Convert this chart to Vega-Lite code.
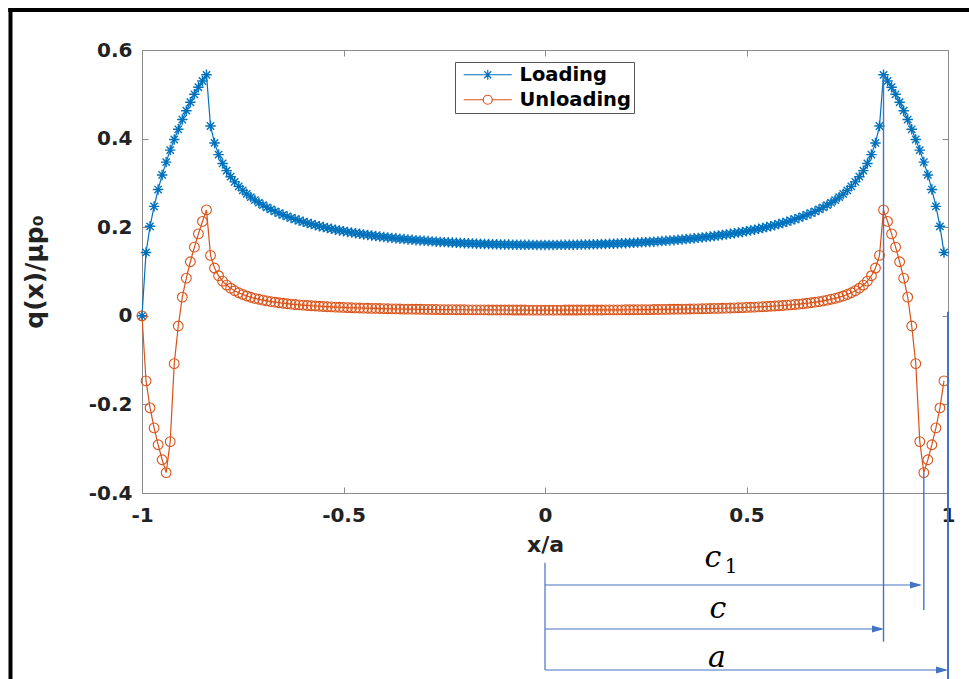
{
"$schema": "https://vega.github.io/schema/vega-lite/v6.json",
"width": 806, "height": 443,
"autosize": {"type": "none"},
"padding": {"left": 142, "top": 50, "right": 21, "bottom": 186},
"background": "white",
"config": {
 "view": {"stroke": null},
 "axis": {"grid": false, "domainColor": "#8c8c8c", "domainWidth": 1, "tickColor": "#8c8c8c", "tickSize": -6, "labelFont": "DejaVu Sans", "labelFontSize": 20, "labelFontWeight": "bold", "labelColor": "#222222", "titleFont": "DejaVu Sans", "titleFontSize": 22, "titleFontWeight": "bold", "titleColor": "#222222"}
},
"datasets": {"curve": [
{"x":-1,"Loading":0,"Unloading":0},
{"x":-0.99,"Loading":0.143,"Unloading":-0.147},
{"x":-0.98,"Loading":0.202,"Unloading":-0.208},
{"x":-0.97,"Loading":0.247,"Unloading":-0.253},
{"x":-0.96,"Loading":0.285,"Unloading":-0.291},
{"x":-0.95,"Loading":0.318,"Unloading":-0.325},
{"x":-0.94,"Loading":0.347,"Unloading":-0.354},
{"x":-0.93,"Loading":0.374,"Unloading":-0.284},
{"x":-0.92,"Loading":0.398,"Unloading":-0.108},
{"x":-0.91,"Loading":0.421,"Unloading":-0.023},
{"x":-0.9,"Loading":0.443,"Unloading":0.042},
{"x":-0.89,"Loading":0.463,"Unloading":0.085},
{"x":-0.88,"Loading":0.482,"Unloading":0.122},
{"x":-0.87,"Loading":0.5,"Unloading":0.155},
{"x":-0.86,"Loading":0.516,"Unloading":0.185},
{"x":-0.85,"Loading":0.53,"Unloading":0.213},
{"x":-0.84,"Loading":0.544,"Unloading":0.239},
{"x":-0.83,"Loading":0.4285,"Unloading":0.1363},
{"x":-0.82,"Loading":0.3902,"Unloading":0.1078},
{"x":-0.81,"Loading":0.3639,"Unloading":0.0905},
{"x":-0.8,"Loading":0.3439,"Unloading":0.0784},
{"x":-0.79,"Loading":0.3276,"Unloading":0.0694},
{"x":-0.78,"Loading":0.314,"Unloading":0.0623},
{"x":-0.77,"Loading":0.3023,"Unloading":0.0566},
{"x":-0.76,"Loading":0.2922,"Unloading":0.052},
{"x":-0.75,"Loading":0.2832,"Unloading":0.0481},
{"x":-0.74,"Loading":0.2751,"Unloading":0.0448},
{"x":-0.73,"Loading":0.2679,"Unloading":0.0419},
{"x":-0.72,"Loading":0.2613,"Unloading":0.0394},
{"x":-0.71,"Loading":0.2553,"Unloading":0.0373},
{"x":-0.7,"Loading":0.2498,"Unloading":0.0353},
{"x":-0.69,"Loading":0.2447,"Unloading":0.0336},
{"x":-0.68,"Loading":0.2401,"Unloading":0.0321},
{"x":-0.67,"Loading":0.2357,"Unloading":0.0307},
{"x":-0.66,"Loading":0.2317,"Unloading":0.0295},
{"x":-0.65,"Loading":0.2279,"Unloading":0.0283},
{"x":-0.64,"Loading":0.2243,"Unloading":0.0273},
{"x":-0.63,"Loading":0.221,"Unloading":0.0264},
{"x":-0.62,"Loading":0.2179,"Unloading":0.0255},
{"x":-0.61,"Loading":0.2149,"Unloading":0.0247},
{"x":-0.6,"Loading":0.2121,"Unloading":0.024},
{"x":-0.59,"Loading":0.2095,"Unloading":0.0233},
{"x":-0.58,"Loading":0.207,"Unloading":0.0227},
{"x":-0.57,"Loading":0.2046,"Unloading":0.0221},
{"x":-0.56,"Loading":0.2024,"Unloading":0.0215},
{"x":-0.55,"Loading":0.2003,"Unloading":0.021},
{"x":-0.54,"Loading":0.1982,"Unloading":0.0205},
{"x":-0.53,"Loading":0.1963,"Unloading":0.0201},
{"x":-0.52,"Loading":0.1945,"Unloading":0.0197},
{"x":-0.51,"Loading":0.1927,"Unloading":0.0193},
{"x":-0.5,"Loading":0.191,"Unloading":0.0189},
{"x":-0.49,"Loading":0.1894,"Unloading":0.0186},
{"x":-0.48,"Loading":0.1879,"Unloading":0.0182},
{"x":-0.47,"Loading":0.1865,"Unloading":0.0179},
{"x":-0.46,"Loading":0.1851,"Unloading":0.0176},
{"x":-0.45,"Loading":0.1837,"Unloading":0.0173},
{"x":-0.44,"Loading":0.1825,"Unloading":0.0171},
{"x":-0.43,"Loading":0.1812,"Unloading":0.0168},
{"x":-0.42,"Loading":0.1801,"Unloading":0.0166},
{"x":-0.41,"Loading":0.1789,"Unloading":0.0164},
{"x":-0.4,"Loading":0.1779,"Unloading":0.0162},
{"x":-0.39,"Loading":0.1769,"Unloading":0.0159},
{"x":-0.38,"Loading":0.1759,"Unloading":0.0157},
{"x":-0.37,"Loading":0.1749,"Unloading":0.0156},
{"x":-0.36,"Loading":0.174,"Unloading":0.0154},
{"x":-0.35,"Loading":0.1732,"Unloading":0.0152},
{"x":-0.34,"Loading":0.1723,"Unloading":0.0151},
{"x":-0.33,"Loading":0.1715,"Unloading":0.0149},
{"x":-0.32,"Loading":0.1708,"Unloading":0.0148},
{"x":-0.31,"Loading":0.1701,"Unloading":0.0147},
{"x":-0.3,"Loading":0.1693,"Unloading":0.0145},
{"x":-0.29,"Loading":0.1686,"Unloading":0.0144},
{"x":-0.28,"Loading":0.168,"Unloading":0.0143},
{"x":-0.27,"Loading":0.1674,"Unloading":0.0142},
{"x":-0.26,"Loading":0.1668,"Unloading":0.0141},
{"x":-0.25,"Loading":0.1663,"Unloading":0.014},
{"x":-0.24,"Loading":0.1658,"Unloading":0.0139},
{"x":-0.23,"Loading":0.1653,"Unloading":0.0138},
{"x":-0.22,"Loading":0.1648,"Unloading":0.0137},
{"x":-0.21,"Loading":0.1644,"Unloading":0.0137},
{"x":-0.2,"Loading":0.164,"Unloading":0.0136},
{"x":-0.19,"Loading":0.1636,"Unloading":0.0135},
{"x":-0.18,"Loading":0.1632,"Unloading":0.0135},
{"x":-0.17,"Loading":0.1628,"Unloading":0.0134},
{"x":-0.16,"Loading":0.1625,"Unloading":0.0133},
{"x":-0.15,"Loading":0.1622,"Unloading":0.0133},
{"x":-0.14,"Loading":0.1619,"Unloading":0.0132},
{"x":-0.13,"Loading":0.1616,"Unloading":0.0132},
{"x":-0.12,"Loading":0.1614,"Unloading":0.0132},
{"x":-0.11,"Loading":0.1612,"Unloading":0.0131},
{"x":-0.1,"Loading":0.161,"Unloading":0.0131},
{"x":-0.09,"Loading":0.1608,"Unloading":0.0131},
{"x":-0.08,"Loading":0.1606,"Unloading":0.013},
{"x":-0.07,"Loading":0.1605,"Unloading":0.013},
{"x":-0.06,"Loading":0.1603,"Unloading":0.013},
{"x":-0.05,"Loading":0.1602,"Unloading":0.013},
{"x":-0.04,"Loading":0.1602,"Unloading":0.0129},
{"x":-0.03,"Loading":0.1601,"Unloading":0.0129},
{"x":-0.02,"Loading":0.16,"Unloading":0.0129},
{"x":-0.01,"Loading":0.16,"Unloading":0.0129},
{"x":0,"Loading":0.16,"Unloading":0.0129},
{"x":0.01,"Loading":0.16,"Unloading":0.0129},
{"x":0.02,"Loading":0.16,"Unloading":0.0129},
{"x":0.03,"Loading":0.1601,"Unloading":0.0129},
{"x":0.04,"Loading":0.1602,"Unloading":0.0129},
{"x":0.05,"Loading":0.1602,"Unloading":0.013},
{"x":0.06,"Loading":0.1603,"Unloading":0.013},
{"x":0.07,"Loading":0.1605,"Unloading":0.013},
{"x":0.08,"Loading":0.1606,"Unloading":0.013},
{"x":0.09,"Loading":0.1608,"Unloading":0.0131},
{"x":0.1,"Loading":0.161,"Unloading":0.0131},
{"x":0.11,"Loading":0.1612,"Unloading":0.0131},
{"x":0.12,"Loading":0.1614,"Unloading":0.0132},
{"x":0.13,"Loading":0.1616,"Unloading":0.0132},
{"x":0.14,"Loading":0.1619,"Unloading":0.0132},
{"x":0.15,"Loading":0.1622,"Unloading":0.0133},
{"x":0.16,"Loading":0.1625,"Unloading":0.0133},
{"x":0.17,"Loading":0.1628,"Unloading":0.0134},
{"x":0.18,"Loading":0.1632,"Unloading":0.0135},
{"x":0.19,"Loading":0.1636,"Unloading":0.0135},
{"x":0.2,"Loading":0.164,"Unloading":0.0136},
{"x":0.21,"Loading":0.1644,"Unloading":0.0137},
{"x":0.22,"Loading":0.1648,"Unloading":0.0137},
{"x":0.23,"Loading":0.1653,"Unloading":0.0138},
{"x":0.24,"Loading":0.1658,"Unloading":0.0139},
{"x":0.25,"Loading":0.1663,"Unloading":0.014},
{"x":0.26,"Loading":0.1668,"Unloading":0.0141},
{"x":0.27,"Loading":0.1674,"Unloading":0.0142},
{"x":0.28,"Loading":0.168,"Unloading":0.0143},
{"x":0.29,"Loading":0.1686,"Unloading":0.0144},
{"x":0.3,"Loading":0.1693,"Unloading":0.0145},
{"x":0.31,"Loading":0.1701,"Unloading":0.0147},
{"x":0.32,"Loading":0.1708,"Unloading":0.0148},
{"x":0.33,"Loading":0.1715,"Unloading":0.0149},
{"x":0.34,"Loading":0.1723,"Unloading":0.0151},
{"x":0.35,"Loading":0.1732,"Unloading":0.0152},
{"x":0.36,"Loading":0.174,"Unloading":0.0154},
{"x":0.37,"Loading":0.1749,"Unloading":0.0156},
{"x":0.38,"Loading":0.1759,"Unloading":0.0157},
{"x":0.39,"Loading":0.1769,"Unloading":0.0159},
{"x":0.4,"Loading":0.1779,"Unloading":0.0162},
{"x":0.41,"Loading":0.1789,"Unloading":0.0164},
{"x":0.42,"Loading":0.1801,"Unloading":0.0166},
{"x":0.43,"Loading":0.1812,"Unloading":0.0168},
{"x":0.44,"Loading":0.1825,"Unloading":0.0171},
{"x":0.45,"Loading":0.1837,"Unloading":0.0173},
{"x":0.46,"Loading":0.1851,"Unloading":0.0176},
{"x":0.47,"Loading":0.1865,"Unloading":0.0179},
{"x":0.48,"Loading":0.1879,"Unloading":0.0182},
{"x":0.49,"Loading":0.1894,"Unloading":0.0186},
{"x":0.5,"Loading":0.191,"Unloading":0.0189},
{"x":0.51,"Loading":0.1927,"Unloading":0.0193},
{"x":0.52,"Loading":0.1945,"Unloading":0.0197},
{"x":0.53,"Loading":0.1963,"Unloading":0.0201},
{"x":0.54,"Loading":0.1982,"Unloading":0.0205},
{"x":0.55,"Loading":0.2003,"Unloading":0.021},
{"x":0.56,"Loading":0.2024,"Unloading":0.0215},
{"x":0.57,"Loading":0.2046,"Unloading":0.0221},
{"x":0.58,"Loading":0.207,"Unloading":0.0227},
{"x":0.59,"Loading":0.2095,"Unloading":0.0233},
{"x":0.6,"Loading":0.2121,"Unloading":0.024},
{"x":0.61,"Loading":0.2149,"Unloading":0.0247},
{"x":0.62,"Loading":0.2179,"Unloading":0.0255},
{"x":0.63,"Loading":0.221,"Unloading":0.0264},
{"x":0.64,"Loading":0.2243,"Unloading":0.0273},
{"x":0.65,"Loading":0.2279,"Unloading":0.0283},
{"x":0.66,"Loading":0.2317,"Unloading":0.0295},
{"x":0.67,"Loading":0.2357,"Unloading":0.0307},
{"x":0.68,"Loading":0.2401,"Unloading":0.0321},
{"x":0.69,"Loading":0.2447,"Unloading":0.0336},
{"x":0.7,"Loading":0.2498,"Unloading":0.0353},
{"x":0.71,"Loading":0.2553,"Unloading":0.0373},
{"x":0.72,"Loading":0.2613,"Unloading":0.0394},
{"x":0.73,"Loading":0.2679,"Unloading":0.0419},
{"x":0.74,"Loading":0.2751,"Unloading":0.0448},
{"x":0.75,"Loading":0.2832,"Unloading":0.0481},
{"x":0.76,"Loading":0.2922,"Unloading":0.052},
{"x":0.77,"Loading":0.3023,"Unloading":0.0566},
{"x":0.78,"Loading":0.314,"Unloading":0.0623},
{"x":0.79,"Loading":0.3276,"Unloading":0.0694},
{"x":0.8,"Loading":0.3439,"Unloading":0.0784},
{"x":0.81,"Loading":0.3639,"Unloading":0.0905},
{"x":0.82,"Loading":0.3902,"Unloading":0.1078},
{"x":0.83,"Loading":0.4285,"Unloading":0.1363},
{"x":0.84,"Loading":0.544,"Unloading":0.239},
{"x":0.85,"Loading":0.53,"Unloading":0.213},
{"x":0.86,"Loading":0.516,"Unloading":0.185},
{"x":0.87,"Loading":0.5,"Unloading":0.155},
{"x":0.88,"Loading":0.482,"Unloading":0.122},
{"x":0.89,"Loading":0.463,"Unloading":0.085},
{"x":0.9,"Loading":0.443,"Unloading":0.042},
{"x":0.91,"Loading":0.421,"Unloading":-0.023},
{"x":0.92,"Loading":0.398,"Unloading":-0.108},
{"x":0.93,"Loading":0.374,"Unloading":-0.284},
{"x":0.94,"Loading":0.347,"Unloading":-0.354},
{"x":0.95,"Loading":0.318,"Unloading":-0.325},
{"x":0.96,"Loading":0.285,"Unloading":-0.291},
{"x":0.97,"Loading":0.247,"Unloading":-0.253},
{"x":0.98,"Loading":0.202,"Unloading":-0.208},
{"x":0.99,"Loading":0.143,"Unloading":-0.147}
]},
"resolve": {"axis": {"x": "independent", "y": "independent"}},
"layer": [
 {"data": {"name": "curve"}, "transform": [{"fold": ["Loading", "Unloading"], "as": ["series", "q"]}],
  "mark": {"type": "line", "strokeWidth": 1.2, "clip": false},
  "encoding": {
   "x": {"field": "x", "type": "quantitative", "scale": {"domain": [-1, 1], "nice": false, "zero": false},
     "axis": {"orient": "bottom", "values": [-1, -0.5, 0, 0.5, 1], "labelExpr": "'' + datum.value", "labelPadding": 18, "labelFlush": false, "labelOverlap": false, "title": "x/a", "titleFontSize": 22, "titleX": 403, "titleY": 51, "titleBaseline": "middle", "titleAlign": "center"}},
   "y": {"field": "q", "type": "quantitative", "scale": {"domain": [-0.4, 0.6], "nice": false, "zero": false},
     "axis": {"orient": "left", "values": [-0.4, -0.2, 0, 0.2, 0.4, 0.6], "labelExpr": "'' + datum.value", "labelPadding": 16, "labelFlush": false, "labelOverlap": false, "title": "q(x)/μp₀", "titleFontSize": 25, "titleX": -108, "titleY": 221.5, "titleAngle": -90, "titleBaseline": "middle", "titleAlign": "center"}},
   "color": {"field": "series", "type": "nominal", "scale": {"domain": ["Loading", "Unloading"], "range": ["#0072BD", "#D95319"]},
     "legend": {"orient": "none", "legendX": 313, "legendY": 12, "title": null, "labelFont": "DejaVu Sans", "labelFontWeight": "bold", "labelFontSize": 19.5, "labelColor": "#000000", "strokeColor": "#555555", "fillColor": "#ffffff", "padding": 3, "rowPadding": 4, "symbolOffset": 20, "labelOffset": 22, "symbolSize": 100, "symbolStrokeWidth": 1.2, "symbolType": "M-4.8,0L4.8,0",
       "encode": {"symbols": {"update": {"shape": {"signal": "datum.value === 'Loading' ? 'M-4.8,0L4.8,0M-1,0L1,0M0,-1L0,1M-0.7,-0.7L0.7,0.7M-0.7,0.7L0.7,-0.7' : 'M-4.8,0L-0.9,0M0.9,0L4.8,0M-0.9,0A0.9,0.9 0 1,0 0.9,0A0.9,0.9 0 1,0 -0.9,0'"}, "fill": {"value": "transparent"}, "strokeWidth": {"value": 1.2}}}}}}
  }
 },
 {"data": {"name": "curve"}, "transform": [{"fold": ["Loading"], "as": ["series", "q"]}],
  "mark": {"type": "point", "filled": false, "size": 110, "strokeWidth": 1.4, "opacity": 1, "color": "#0072BD", "shape": "M-1,0L1,0M0,-1L0,1M-0.7,-0.7L0.7,0.7M-0.7,0.7L0.7,-0.7", "clip": false},
  "encoding": {
   "x": {"field": "x", "type": "quantitative", "scale": {"domain": [-1, 1], "nice": false, "zero": false},
     "axis": {"orient": "top", "values": [-1, -0.5, 0, 0.5, 1], "labels": false, "title": null}},
   "y": {"field": "q", "type": "quantitative", "scale": {"domain": [-0.4, 0.6], "nice": false, "zero": false},
     "axis": {"orient": "right", "values": [-0.4, -0.2, 0, 0.2, 0.4, 0.6], "labels": false, "title": null}}
  }
 },
 {"data": {"name": "curve"}, "transform": [{"fold": ["Unloading"], "as": ["series", "q"]}],
  "mark": {"type": "point", "filled": false, "size": 95, "strokeWidth": 1.1, "opacity": 1, "color": "#D95319", "shape": "circle", "clip": false},
  "encoding": {
   "x": {"field": "x", "type": "quantitative", "scale": {"domain": [-1, 1], "nice": false, "zero": false}, "axis": null},
   "y": {"field": "q", "type": "quantitative", "scale": {"domain": [-0.4, 0.6], "nice": false, "zero": false}, "axis": null}
  }
 },
 {"data": {"values": [{}]}, "mark": {"type": "rule", "color": "#000000", "strokeWidth": 4, "clip": false},
  "encoding": {"x": {"datum": -1.332, "scale": {"domain": [-1, 1], "nice": false, "zero": false}, "axis": null}, "x2": {"datum": 1.1}, "y": {"datum": 0.6903, "scale": {"domain": [-0.4, 0.6], "nice": false, "zero": false}, "axis": null}}},
 {"data": {"values": [{}]}, "mark": {"type": "rule", "color": "#000000", "strokeWidth": 4, "clip": false},
  "encoding": {"x": {"datum": -1.3263, "scale": {"domain": [-1, 1], "nice": false, "zero": false}, "axis": null}, "y": {"datum": 0.695, "scale": {"domain": [-0.4, 0.6], "nice": false, "zero": false}, "axis": null}, "y2": {"datum": -0.95}}},
 {"data": {"values": [{}]}, "mark": {"type": "rule", "color": "#4472C4", "strokeWidth": 1.4, "clip": false},
  "encoding": {"x": {"datum": 0.84, "scale": {"domain": [-1, 1], "nice": false, "zero": false}, "axis": null}, "y": {"datum": 0.5426, "scale": {"domain": [-0.4, 0.6], "nice": false, "zero": false}, "axis": null}, "y2": {"datum": -0.736}}},
 {"data": {"values": [{}]}, "mark": {"type": "rule", "color": "#4472C4", "strokeWidth": 1.4, "clip": false},
  "encoding": {"x": {"datum": 0.94, "scale": {"domain": [-1, 1], "nice": false, "zero": false}, "axis": null}, "y": {"datum": -0.354, "scale": {"domain": [-0.4, 0.6], "nice": false, "zero": false}, "axis": null}, "y2": {"datum": -0.664}}},
 {"data": {"values": [{}]}, "mark": {"type": "rule", "color": "#4472C4", "strokeWidth": 2, "clip": false},
  "encoding": {"x": {"datum": 1, "scale": {"domain": [-1, 1], "nice": false, "zero": false}, "axis": null}, "y": {"datum": 0.009, "scale": {"domain": [-0.4, 0.6], "nice": false, "zero": false}, "axis": null}, "y2": {"datum": -0.95}}},
 {"data": {"values": [{}]}, "mark": {"type": "rule", "color": "#4472C4", "strokeWidth": 1.2, "clip": false},
  "encoding": {"x": {"datum": 0, "scale": {"domain": [-1, 1], "nice": false, "zero": false}, "axis": null}, "y": {"datum": -0.5576, "scale": {"domain": [-0.4, 0.6], "nice": false, "zero": false}, "axis": null}, "y2": {"datum": -0.7995}}},
 {"data": {"values": [{}]}, "mark": {"type": "rule", "color": "#4472C4", "strokeWidth": 1.2, "clip": false},
  "encoding": {"x": {"datum": 0, "scale": {"domain": [-1, 1], "nice": false, "zero": false}, "axis": null}, "x2": {"datum": 0.93}, "y": {"datum": -0.6077, "scale": {"domain": [-0.4, 0.6], "nice": false, "zero": false}, "axis": null}}},
 {"data": {"values": [{}]}, "mark": {"type": "rule", "color": "#4472C4", "strokeWidth": 1.2, "clip": false},
  "encoding": {"x": {"datum": 0, "scale": {"domain": [-1, 1], "nice": false, "zero": false}, "axis": null}, "x2": {"datum": 0.835}, "y": {"datum": -0.707, "scale": {"domain": [-0.4, 0.6], "nice": false, "zero": false}, "axis": null}}},
 {"data": {"values": [{}]}, "mark": {"type": "rule", "color": "#4472C4", "strokeWidth": 1.2, "clip": false},
  "encoding": {"x": {"datum": 0, "scale": {"domain": [-1, 1], "nice": false, "zero": false}, "axis": null}, "x2": {"datum": 0.995}, "y": {"datum": -0.7995, "scale": {"domain": [-0.4, 0.6], "nice": false, "zero": false}, "axis": null}}},
 {"data": {"values": [{}]}, "mark": {"type": "point", "shape": "M-1,-0.6L1,0L-1,0.6Z", "size": 144, "filled": true, "color": "#4472C4", "opacity": 1, "clip": false},
  "encoding": {"x": {"datum": 0.9206, "scale": {"domain": [-1, 1], "nice": false, "zero": false}, "axis": null}, "y": {"datum": -0.6077, "scale": {"domain": [-0.4, 0.6], "nice": false, "zero": false}, "axis": null}}},
 {"data": {"values": [{}]}, "mark": {"type": "point", "shape": "M-1,-0.6L1,0L-1,0.6Z", "size": 144, "filled": true, "color": "#4472C4", "opacity": 1, "clip": false},
  "encoding": {"x": {"datum": 0.8263, "scale": {"domain": [-1, 1], "nice": false, "zero": false}, "axis": null}, "y": {"datum": -0.707, "scale": {"domain": [-0.4, 0.6], "nice": false, "zero": false}, "axis": null}}},
 {"data": {"values": [{}]}, "mark": {"type": "point", "shape": "M-1,-0.6L1,0L-1,0.6Z", "size": 144, "filled": true, "color": "#4472C4", "opacity": 1, "clip": false},
  "encoding": {"x": {"datum": 0.9851, "scale": {"domain": [-1, 1], "nice": false, "zero": false}, "axis": null}, "y": {"datum": -0.7995, "scale": {"domain": [-0.4, 0.6], "nice": false, "zero": false}, "axis": null}}},
 {"data": {"values": [{}]}, "mark": {"type": "text", "text": "c", "font": "DejaVu Serif", "fontStyle": "italic", "fontSize": 30, "align": "center", "baseline": "alphabetic", "color": "#000000", "clip": false},
  "encoding": {"x": {"datum": 0.4169, "scale": {"domain": [-1, 1], "nice": false, "zero": false}, "axis": null}, "y": {"datum": -0.567, "scale": {"domain": [-0.4, 0.6], "nice": false, "zero": false}, "axis": null}}},
 {"data": {"values": [{}]}, "mark": {"type": "text", "text": "1", "font": "DejaVu Serif", "fontSize": 20, "align": "center", "baseline": "alphabetic", "color": "#000000", "clip": false},
  "encoding": {"x": {"datum": 0.4615, "scale": {"domain": [-1, 1], "nice": false, "zero": false}, "axis": null}, "y": {"datum": -0.5806, "scale": {"domain": [-0.4, 0.6], "nice": false, "zero": false}, "axis": null}}},
 {"data": {"values": [{}]}, "mark": {"type": "text", "text": "c", "font": "DejaVu Serif", "fontStyle": "italic", "fontSize": 30, "align": "center", "baseline": "alphabetic", "color": "#000000", "clip": false},
  "encoding": {"x": {"datum": 0.4293, "scale": {"domain": [-1, 1], "nice": false, "zero": false}, "axis": null}, "y": {"datum": -0.6826, "scale": {"domain": [-0.4, 0.6], "nice": false, "zero": false}, "axis": null}}},
 {"data": {"values": [{}]}, "mark": {"type": "text", "text": "a", "font": "DejaVu Serif", "fontStyle": "italic", "fontSize": 30, "align": "center", "baseline": "alphabetic", "color": "#000000", "clip": false},
  "encoding": {"x": {"datum": 0.4268, "scale": {"domain": [-1, 1], "nice": false, "zero": false}, "axis": null}, "y": {"datum": -0.7932, "scale": {"domain": [-0.4, 0.6], "nice": false, "zero": false}, "axis": null}}}
]
}
